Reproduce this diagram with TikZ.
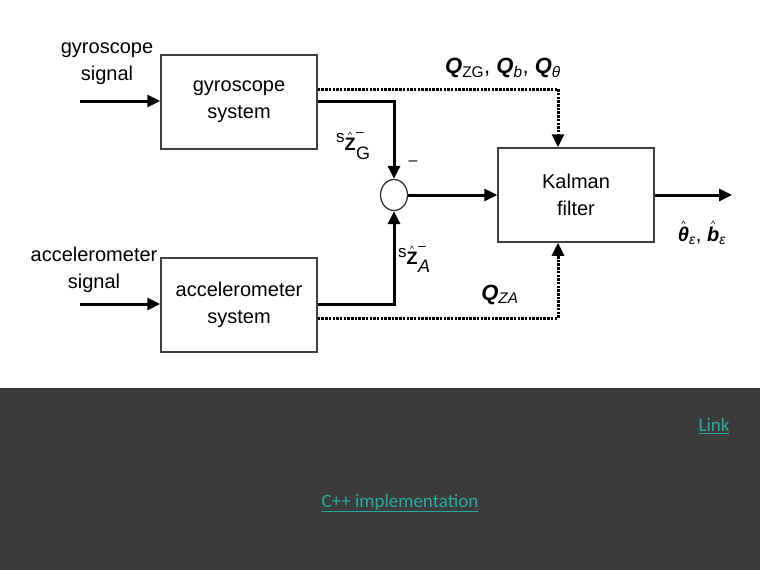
\documentclass[tikz,border=0pt]{standalone}
\usepackage{fontspec}
\setmainfont{Liberation Sans}
\newfontfamily\linkfont{Carlito}
\usetikzlibrary{arrows.meta,shapes.geometric}
\definecolor{darkbg}{RGB}{59,59,59}
\definecolor{linkc}{RGB}{38,170,158}
\newcommand\withhat[1]{\setbox0=\hbox{#1}\rlap{\makebox[\wd0]{\raisebox{\dimexpr\ht0-0.5pt\relax}{\fontsize{9}{9}\selectfont\textasciicircum}}}\box0}
\newcommand\fsz[1]{\fontsize{#1}{#1}\selectfont}
\begin{document}
\begin{tikzpicture}[x=1pt,y=-1pt,
  blockbox/.style={draw=black!75,line width=1.5pt,minimum width=156pt,minimum height=94pt,align=center,font=\fontsize{20}{27}\selectfont,inner sep=0pt},
  sig/.style={line width=3pt,-{Triangle[length=13pt,width=12pt]}},
  dots/.style={line width=3pt,dash pattern=on 2.5pt off 1.2pt},
  dotarrow/.style={dots,-{Triangle[length=13pt,width=12pt]}},
  lbl/.style={align=center,font=\fontsize{20}{27}\selectfont,inner sep=0pt},
  linklbl/.style={text=linkc,font=\linkfont\fsz{19},inner sep=0pt}]
\useasboundingbox (0,0) rectangle (760,570);
\fill[white] (0,0) rectangle (760,388);
\fill[darkbg] (0,388) rectangle (760,570);

% blocks
\node[blockbox] (gyro) at (239,102) {gyroscope\\system};
\node[blockbox] (accel) at (239,305) {accelerometer\\system};
\node[blockbox] (kalman) at (576,195) {Kalman\\filter};
\node[draw=black!80,line width=1.3pt,ellipse,minimum width=27pt,minimum height=31pt,inner sep=0pt] (sum) at (394,195) {};

% free ends
\coordinate (gin) at (80,101);
\coordinate (ain) at (80,304);
\coordinate (out) at (732,195);
\coordinate (qg) at (558,89);
\coordinate (qa) at (558,318);

\node[lbl] (glbl) at (107,64) {gyroscope\\signal};
\node[lbl] (albl) at (94,270) {accelerometer\\signal};

\draw[sig] (gin) -- (gyro.west |- gin);
\draw[sig] (ain) -- (accel.west |- ain);

% solid paths to sum
\draw[sig] (gyro.east |- gin) -| (sum.north);
\draw[sig] (accel.east |- ain) -| (sum.south);
\draw[sig] (sum.east) -- (kalman.west);
\draw[sig] (kalman.east) -- (out);

% dotted paths
\draw[dotarrow] (gyro.east |- qg) -- (qg) -- (qg |- kalman.north);
\draw[dotarrow] (accel.east |- qa) -- (qa) -- (qa |- kalman.south);

% labels
\node[inner sep=0pt] (qtop) at (503,68) {\fsz{22}\textbf{\textit{Q}}\textsubscript{ZG}, \textbf{\textit{Q}}\textsubscript{\textit{b}}, \textbf{\textit{Q}}\textsubscript{\textit{θ}}};
\node[inner sep=0pt] (qza) at (500,295) {\fsz{22}\textbf{\textit{Q}}\textsubscript{\textit{ZA}}};
\node[inner sep=0pt] (zg) at (353,146) {{\fsz{17}\raisebox{8pt}{s}}\withhat{\fsz{18}\textbf{Z}}\kern0.5pt\rlap{\raisebox{14pt}{\fsz{14}\textendash}}{\fsz{18}\raisebox{-9pt}{G}}};
\node[inner sep=0pt] (minus) at (413,163) {\fsz{16}\textendash};
\node[inner sep=0pt] (za) at (414,259) {{\fsz{17}\raisebox{7pt}{s}}\withhat{\fsz{18}\textbf{Z}}\kern0.5pt\rlap{\raisebox{14pt}{\fsz{14}\textendash}}{\fsz{18}\raisebox{-8pt}{\textit{A}}}};
\node[inner sep=0pt] (est) at (702,233) {\fsz{20}\withhat{\textbf{\textit{θ}}}\textsubscript{\textit{ε}},\ \withhat{\textbf{\textit{b}}}\textsubscript{\textit{ε}}};

% links
\node[linklbl] (link) at (714,426) {\underline{Link}};
\node[linklbl] (cpp) at (400,503) {\underline{C++ implementation}};
\end{tikzpicture}
\end{document}
